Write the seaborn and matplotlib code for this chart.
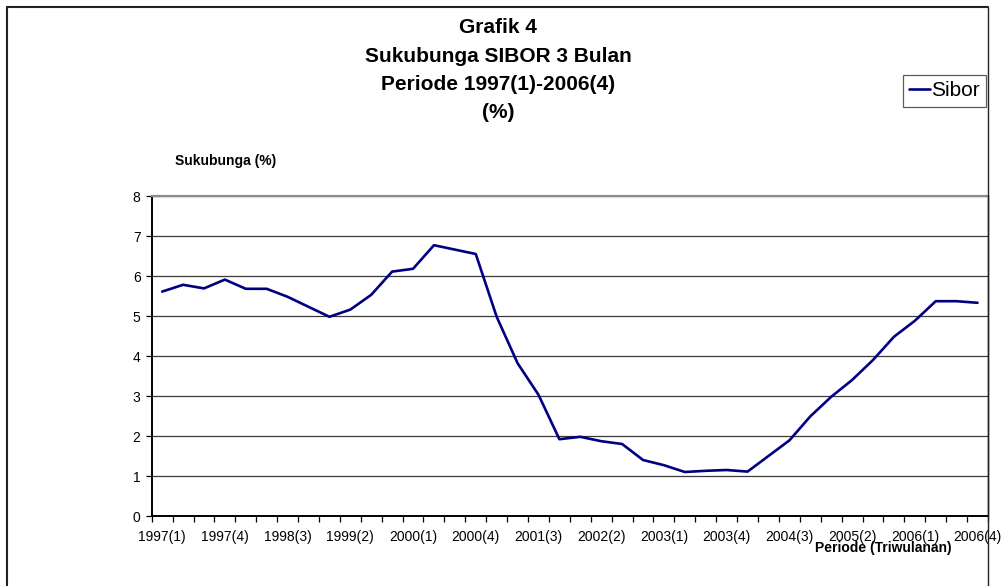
import matplotlib
matplotlib.use("Agg")
import matplotlib.pyplot as plt
from matplotlib.lines import Line2D
import seaborn as sns
import numpy as np
import pandas as pd

sns.set_theme(style="white")
plt.rcParams['font.family'] = ['Liberation Sans', 'DejaVu Sans']
for k in ['text.color', 'axes.labelcolor', 'xtick.color', 'ytick.color']:
    plt.rcParams[k] = 'black'

quarters = [f"{y}({q})" for y in range(1997, 2007) for q in range(1, 5)]
sibor = [5.61, 5.78, 5.69, 5.91, 5.68, 5.68, 5.48, 5.23, 4.98, 5.16,
         5.53, 6.11, 6.18, 6.77, 6.66, 6.55, 4.98, 3.82, 3.03, 1.92,
         1.98, 1.87, 1.80, 1.40, 1.27, 1.10, 1.13, 1.15, 1.11, 1.50,
         1.89, 2.49, 2.98, 3.40, 3.90, 4.48, 4.88, 5.37, 5.37, 5.33]
label_idx = list(range(0, 40, 3))
title_lines = ["Grafik 4", "Sukubunga SIBOR 3 Bulan", "Periode 1997(1)-2006(4)", "(%)"]

df = pd.DataFrame({"pos": np.arange(len(quarters)), "Periode": quarters, "Sibor": sibor})

W, H = 1004, 586
fig = plt.figure(figsize=(W / 100, H / 100), dpi=100)
fig.patch.set_facecolor("white")
ax = fig.add_axes([151.7 / W, 1 - 516 / H, (988 - 151.7) / W, (516 - 196) / H])

sns.lineplot(data=df, x="pos", y="Sibor", ax=ax, color="#000080", linewidth=1.9,
             label="Sibor", legend=False)

ax.set_xlim(-0.5, len(quarters) - 0.5)
ax.set_ylim(0, 8)
ax.set_yticks(range(0, 9))
ax.set_yticklabels([str(v) for v in range(0, 9)], fontsize=10)
ax.yaxis.grid(True, color="#3a3a3a", linewidth=0.9)
ax.set_axisbelow(True)

ax.set_xticks(np.arange(-0.5, len(quarters), 1.0))
ax.set_xticklabels([])
ax.set_xticks(label_idx, minor=True)
ax.set_xticklabels([quarters[i] for i in label_idx], minor=True, fontsize=10)
ax.tick_params(axis="x", which="major", direction="out", length=4, width=0.9, color="black", bottom=True)
ax.tick_params(axis="x", which="minor", length=0, pad=10, bottom=True)
ax.tick_params(axis="y", direction="out", length=4, width=0.9, color="black", left=True, pad=4)
ax.set_xlabel("")
ax.set_ylabel("")

for s in ["left", "bottom"]:
    ax.spines[s].set_color("black")
    ax.spines[s].set_linewidth(1.4)
ax.spines["top"].set_color("#8c8c8c")
ax.spines["top"].set_linewidth(1.6)
ax.spines["right"].set_color("black")
ax.spines["right"].set_linewidth(1.0)

# titles
ys = [27.5, 56, 84.5, 112]
for t, y in zip(title_lines, ys):
    fig.text(498 / W, 1 - y / H, t, ha="center", va="center", fontsize=15, fontweight="bold")

fig.text(225.5 / W, 1 - 161 / H, "Sukubunga (%)", ha="center", va="center", fontsize=10, fontweight="bold")
fig.text(883 / W, 1 - 548 / H, "Periode (Triwulanan)", ha="center", va="center", fontsize=10, fontweight="bold")

handle = Line2D([0], [0], color="#000080", linewidth=1.9)
leg = fig.legend([handle], ["Sibor"], loc="upper right", bbox_to_anchor=(986 / W, 1 - 75 / H),
                 fontsize=15, frameon=True, fancybox=False, handlelength=1.0,
                 handletextpad=0.05, borderpad=0.3, borderaxespad=0)
leg.get_frame().set_edgecolor("#333333")
leg.get_frame().set_linewidth(0.9)

# outer chart border (left, top, right)
fig.add_artist(Line2D([7.5 / W, 7.5 / W], [0, 1 - 7 / H], color="#222222", linewidth=1.5, transform=fig.transFigure))
fig.add_artist(Line2D([7.5 / W, 988 / W], [1 - 7 / H, 1 - 7 / H], color="#222222", linewidth=1.5, transform=fig.transFigure))
fig.add_artist(Line2D([988 / W, 988 / W], [0, 1 - 7 / H], color="#222222", linewidth=1.0, transform=fig.transFigure))

fig.savefig("out.png", dpi=100, facecolor="white")
